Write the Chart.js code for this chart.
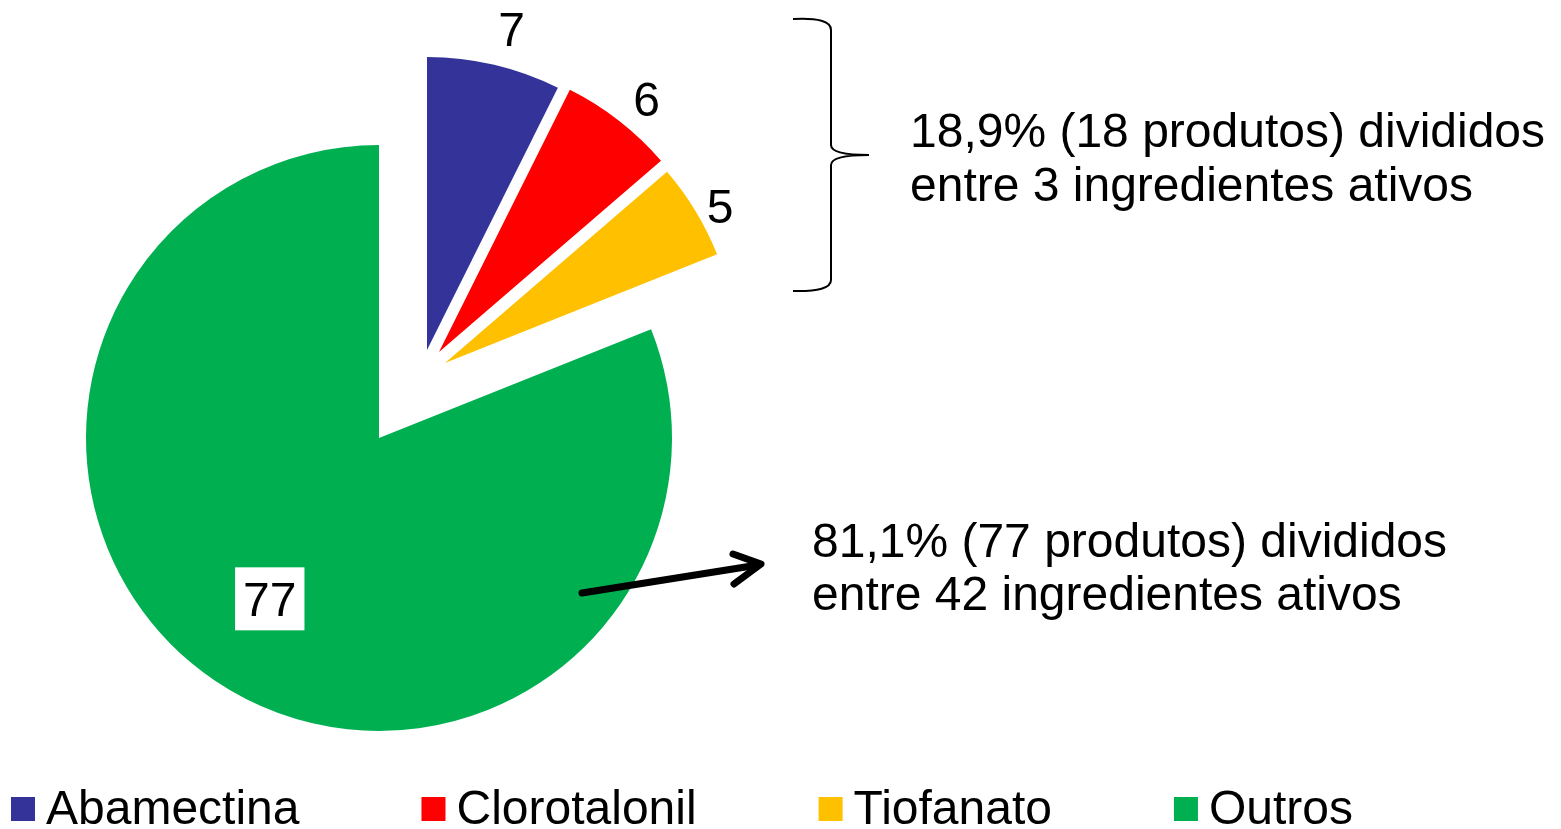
<!DOCTYPE html>
<html>
<head>
<meta charset="utf-8">
<script src="https://cdn.jsdelivr.net/npm/chart.js@4/dist/chart.umd.min.js"></script>
<style>
html,body{margin:0;padding:0;background:#fff;overflow:hidden;}
#wrap{width:1561px;height:829px;position:relative;}
canvas{display:block;}
</style>
</head>
<body>
<div id="wrap"><canvas id="c" width="1561" height="829"></canvas></div>
<script>
// ---- data ----
const categories = ['Abamectina', 'Clorotalonil', 'Tiofanato', 'Outros'];
const values = [7, 6, 5, 77];
const groupNote = ['18,9% (18 produtos) divididos', 'entre 3 ingredientes ativos'];
const otherNote = ['81,1% (77 produtos) divididos', 'entre 42 ingredientes ativos'];

// ---- styles ----
const colors = ['#333399', '#FF0000', '#FFC000', '#00B050'];
const explode = [[48, -88], [60, -86], [66, -75], [0, 0]];
const labelGap = [39, 34, 24];
const FONT = '48px "Liberation Sans", Arial, sans-serif';

const decor = {
  id: 'decor',
  beforeDatasetsDraw(chart) {
    const ca = chart.chartArea;
    const cx = (ca.left + ca.right) / 2, cy = (ca.top + ca.bottom) / 2;
    chart.getDatasetMeta(0).data.forEach((el, i) => {
      el.x = cx + explode[i][0];
      el.y = cy + explode[i][1];
    });
  },
  afterDatasetsDraw(chart) {
    const ctx = chart.ctx;
    const meta = chart.getDatasetMeta(0);
    const vals = chart.data.datasets[0].data;
    ctx.save();
    ctx.font = FONT;
    ctx.fillStyle = '#000';
    ctx.textAlign = 'center';
    ctx.textBaseline = 'alphabetic';
    meta.data.forEach((el, i) => {
      const mid = (el.startAngle + el.endAngle) / 2;
      const r = el.outerRadius;
      const txt = String(vals[i]);
      if (i < 3) {
        const d = r + labelGap[i];
        const a = mid + 0.026;
        const x = el.x + Math.cos(a) * d;
        const y = el.y + Math.sin(a) * d;
        ctx.fillStyle = '#000';
        ctx.fillText(txt, x, y + 17);
      } else {
        const d = r * 0.665;
        const x = el.x + Math.cos(mid) * d;
        const y = el.y + Math.sin(mid) * d;
        const w = ctx.measureText(txt).width + 16;
        ctx.fillStyle = '#fff';
        ctx.fillRect(x - w / 2, y - 32, w, 63);
        ctx.fillStyle = '#000';
        ctx.fillText(txt, x, y + 17);
      }
    });

    // annotations
    ctx.textAlign = 'left';
    ctx.fillStyle = '#000';
    ctx.fillText(groupNote[0], 910, 147);
    ctx.fillText(groupNote[1], 910, 201);
    ctx.fillText(otherNote[0], 812, 557);
    ctx.fillText(otherNote[1], 812, 610);

    // bracket
    ctx.strokeStyle = '#000';
    ctx.lineWidth = 2;
    ctx.beginPath();
    ctx.moveTo(793, 19);
    ctx.quadraticCurveTo(831, 17, 831, 30);
    ctx.lineTo(831, 145);
    ctx.quadraticCurveTo(831, 155, 869, 155);
    ctx.quadraticCurveTo(831, 155, 831, 165);
    ctx.lineTo(831, 280);
    ctx.quadraticCurveTo(831, 292, 793, 291);
    ctx.stroke();

    // arrow
    ctx.lineWidth = 7;
    ctx.lineCap = 'round';
    ctx.lineJoin = 'round';
    ctx.beginPath();
    ctx.moveTo(582, 593);
    ctx.lineTo(758, 565);
    ctx.stroke();
    ctx.beginPath();
    ctx.moveTo(733, 554);
    ctx.lineTo(761, 564);
    ctx.lineTo(734, 584);
    ctx.stroke();

    // legend
    ctx.lineCap = 'butt';
    let lx = 11;
    categories.forEach((c, i) => {
      ctx.fillStyle = colors[i];
      ctx.fillRect(lx, 797, 24, 24);
      ctx.fillStyle = '#000';
      ctx.fillText(c, lx + 35, 824);
      lx += 35 + ctx.measureText(c).width + 122;
    });
    ctx.restore();
  }
};

new Chart(document.getElementById('c'), {
  type: 'pie',
  data: {
    labels: categories,
    datasets: [{
      data: values,
      backgroundColor: colors,
      borderWidth: 0
    }]
  },
  options: {
    responsive: false,
    animation: false,
    events: [],
    layout: { padding: { left: 86, top: 145, right: 889, bottom: 98 } },
    plugins: { legend: { display: false }, tooltip: { enabled: false } }
  },
  plugins: [decor]
});
</script>
</body>
</html>
